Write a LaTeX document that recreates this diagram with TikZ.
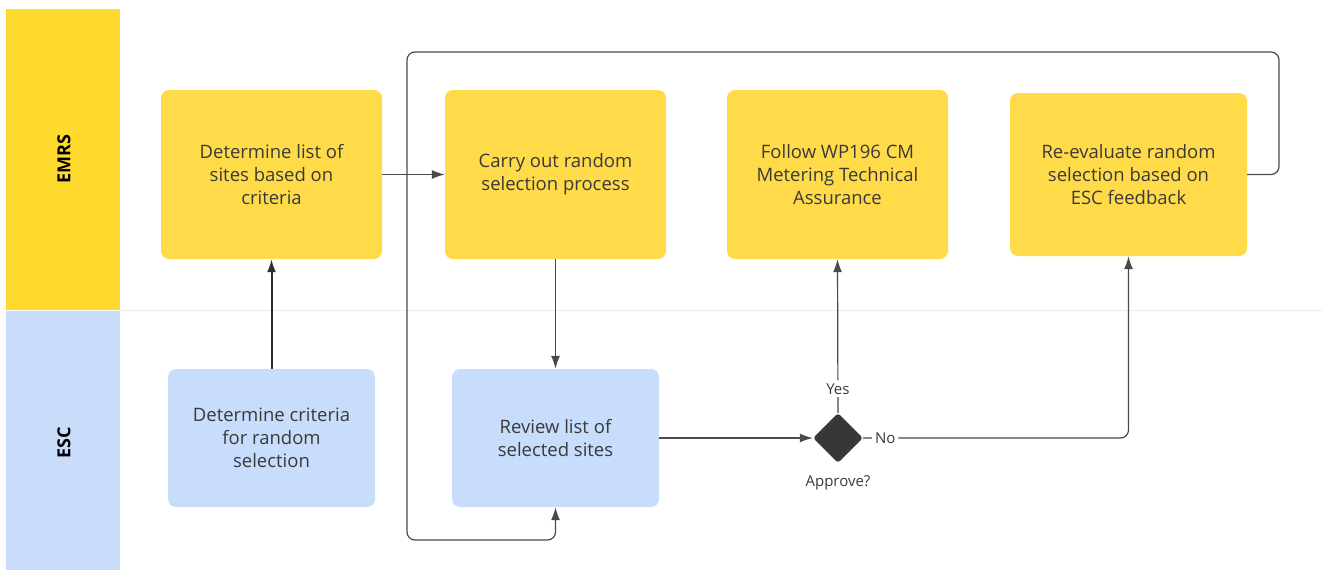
\documentclass[tikz,border=0pt]{standalone}
\usepackage{fontspec}
\setmainfont{Open Sans}
\usetikzlibrary{arrows.meta,shapes.geometric}

\definecolor{laneyellow}{HTML}{FFDA2E}
\definecolor{laneblue}{HTML}{C9DDFB}
\definecolor{boxyellow}{HTML}{FFDB4A}
\definecolor{boxblue}{HTML}{C8DCFB}
\definecolor{ink}{HTML}{3A3A3A}
\definecolor{wire}{HTML}{4A4A4A}

\tikzset{
  stepbox/.style={rectangle, rounded corners=8pt, draw=none, align=center,
    text=ink, font=\fontsize{18.5}{23}\selectfont, inner sep=0pt},
  ybox/.style={stepbox, fill=boxyellow},
  bbox/.style={stepbox, fill=boxblue},
  conn/.style={draw=wire, line width=1.2pt, -{Latex[length=13pt,width=9pt]}},
  lbl/.style={fill=white, text=ink, inner sep=3pt, font=\fontsize{15}{17}\selectfont},
  lanetitle/.style={rotate=90, font=\bfseries\fontsize{18}{20}\selectfont, text=black}
}

\begin{document}
\begin{tikzpicture}[x=1pt, y=-1pt]
  \useasboundingbox (0,0) rectangle (1322,570);

  % swimlane headers
  \fill[laneyellow] (6,9) rectangle (120,310);
  \fill[laneblue] (6,311) rectangle (120,570);
  \draw[gray!15, line width=0.8pt] (120,310.5) -- (1322,310.5);
  \node[lanetitle] (emrs) at (64,159) {EMRS};
  \node[lanetitle] (esc) at (64,443) {ESC};

  % process steps
  \node[ybox, minimum width=221pt, minimum height=169pt] (A) at (271.5,174.5)
    {Determine list of\\sites based on\\criteria};
  \node[ybox, minimum width=221pt, minimum height=169pt] (B) at (555.5,174.5)
    {Carry out random\\selection process};
  \node[ybox, minimum width=221pt, minimum height=169pt] (C) at (837.5,174.5)
    {Follow WP196 CM\\Metering Technical\\Assurance};
  \node[ybox, minimum width=237pt, minimum height=163pt] (D) at (1128.5,174.5)
    {Re-evaluate random\\selection based on\\ESC feedback};
  \node[bbox, minimum width=207pt, minimum height=138pt] (E) at (271.5,438)
    {Determine criteria\\for random\\selection};
  \node[bbox, minimum width=207pt, minimum height=138pt] (F) at (555.5,438)
    {Review list of\\selected sites};

  % decision
  \node[diamond, fill=ink!95!black, minimum width=50pt, minimum height=50pt,
    inner sep=0pt, rounded corners=3pt] (Q) at (838,438) {};
  \node[text=ink, font=\fontsize{15}{17}\selectfont] (qlabel) at (838,483) {Approve?};

  % loop-back route
  \coordinate (loopTR) at (1279,52);
  \coordinate (loopTL) at (407,52);
  \coordinate (loopBL) at (407,540);

  % connectors
  \draw[conn] (A.east) -- (B.west);
  \draw[conn, line width=2pt, draw=ink!80!black] (E.north) -- (A.south);
  \draw[conn] (B.south) -- (F.north);
  \draw[conn] (F.east) -- (Q.west);
  \draw[conn] (Q.north) -- node[lbl, pos=0.156] {Yes} (C.south);
  \draw[conn, rounded corners=8pt] (Q.east) -- node[lbl, pos=0.083] {No} (D.south |- Q.east) -- (D.south);
  \draw[conn, rounded corners=8pt] (D.east) -| (loopTR) -- (loopTL) -- (loopBL) -| (F.south);
\end{tikzpicture}
\end{document}
